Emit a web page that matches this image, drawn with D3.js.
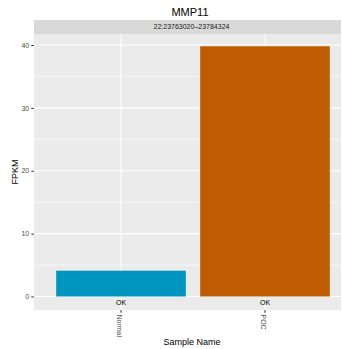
<!DOCTYPE html>
<html>
<head>
<meta charset="utf-8">
<script src="https://cdn.jsdelivr.net/npm/d3@7"></script>
<style>
  html, body { margin: 0; padding: 0; background: #ffffff; }
  svg { display: block; font-family: "Liberation Sans", Arial, Helvetica, sans-serif; }
</style>
</head>
<body>
<div id="chart"></div>
<script>
// Expression of MMP11 per sample group
const title = "MMP11";
const stripLabel = "22:23763020\u201323784324";
const samples = ["Normal", "POC"];
const fpkm = [4.1, 39.8];
const statusLabels = ["OK", "OK"];
const barColors = ["#0095bf", "#bf5b00"];
const yTicks = [0, 10, 20, 30, 40];
const yMinor = [5, 15, 25, 35];
const yDomain = [-2.15, 41.75];

const W = 342, H = 349;
const panel = { left: 34, right: 341, top: 34, bottom: 310 };
const strip = { top: 20, bottom: 34 };

const svg = d3.select("#chart").append("svg")
  .attr("width", W).attr("height", H);

svg.append("rect").attr("width", W).attr("height", H).attr("fill", "#ffffff");

const x = d3.scaleBand()
  .domain(samples)
  .range([49, 337])
  .paddingInner(0).paddingOuter(0);

const y = d3.scaleLinear()
  .domain(yDomain)
  .range([panel.bottom, panel.top]);

const barWidth = x.bandwidth() * 0.9;
const cx = s => x(s) + x.bandwidth() / 2;

// panel background
svg.append("rect")
  .attr("x", panel.left).attr("y", panel.top)
  .attr("width", panel.right - panel.left).attr("height", panel.bottom - panel.top)
  .attr("fill", "#ebebeb");

// facet strip
svg.append("rect")
  .attr("x", panel.left).attr("y", strip.top)
  .attr("width", panel.right - panel.left).attr("height", strip.bottom - strip.top)
  .attr("fill", "#d9d9d9");
svg.append("text")
  .attr("x", (panel.left + panel.right) / 2 + 4).attr("y", (strip.top + strip.bottom) / 2)
  .attr("dy", "0.35em").attr("text-anchor", "middle")
  .attr("font-size", 7).attr("fill", "#1a1a1a")
  .text(stripLabel);

// grid lines
const grid = svg.append("g");
grid.selectAll("line.minor").data(yMinor).join("line")
  .attr("class", "minor")
  .attr("x1", panel.left).attr("x2", panel.right)
  .attr("y1", d => y(d)).attr("y2", d => y(d))
  .attr("stroke", "#ffffff").attr("stroke-width", 0.55);
grid.selectAll("line.major").data(yTicks).join("line")
  .attr("class", "major")
  .attr("x1", panel.left).attr("x2", panel.right)
  .attr("y1", d => y(d)).attr("y2", d => y(d))
  .attr("stroke", "#ffffff").attr("stroke-width", 1.1);
grid.selectAll("line.vmajor").data(samples).join("line")
  .attr("class", "vmajor")
  .attr("x1", d => cx(d)).attr("x2", d => cx(d))
  .attr("y1", panel.top).attr("y2", panel.bottom)
  .attr("stroke", "#ffffff").attr("stroke-width", 1.1);

// bars
svg.append("g").selectAll("rect").data(samples).join("rect")
  .attr("x", d => cx(d) - barWidth / 2)
  .attr("width", barWidth)
  .attr("y", (d, i) => y(fpkm[i]))
  .attr("height", (d, i) => y(0) - y(fpkm[i]))
  .attr("fill", (d, i) => barColors[i]);

// status labels below bars
svg.append("g").selectAll("text").data(samples).join("text")
  .attr("x", d => cx(d))
  .attr("y", y(0) + 6)
  .attr("dy", "0.35em")
  .attr("text-anchor", "middle")
  .attr("font-size", 7).attr("fill", "#000000")
  .text((d, i) => statusLabels[i]);

// y axis
const yAxis = d3.axisLeft(y).tickValues(yTicks).tickSize(2.75).tickPadding(2);
const gy = svg.append("g").attr("transform", `translate(${panel.left},0)`).call(yAxis);
gy.select(".domain").remove();
gy.selectAll(".tick line").attr("stroke", "#333333").attr("stroke-width", 1);
gy.selectAll(".tick text").attr("font-size", 7).attr("fill", "#4d4d4d")
  .attr("font-family", "Liberation Sans, Arial, sans-serif");

// x axis with rotated labels
const xAxis = d3.axisBottom(x).tickSize(2.75).tickPadding(2);
const gx = svg.append("g").attr("transform", `translate(0,${panel.bottom})`).call(xAxis);
gx.select(".domain").remove();
gx.selectAll(".tick line").attr("stroke", "#333333").attr("stroke-width", 1);
gx.selectAll(".tick text")
  .attr("font-size", 7).attr("fill", "#4d4d4d")
  .attr("font-family", "Liberation Sans, Arial, sans-serif")
  .attr("transform", "rotate(90)")
  .attr("x", 4.5).attr("y", 0).attr("dy", "0.55em")
  .attr("text-anchor", "start");

// titles
svg.append("text")
  .attr("x", 190).attr("y", 16)
  .attr("text-anchor", "middle").attr("font-size", 11).attr("fill", "#000000")
  .text(title);
svg.append("text")
  .attr("x", 192).attr("y", 345)
  .attr("text-anchor", "middle").attr("font-size", 9).attr("fill", "#000000")
  .text("Sample Name");
svg.append("text")
  .attr("transform", `translate(18,${(panel.top + panel.bottom) / 2}) rotate(-90)`)
  .attr("text-anchor", "middle").attr("font-size", 9).attr("fill", "#000000")
  .text("FPKM");
</script>
</body>
</html>
